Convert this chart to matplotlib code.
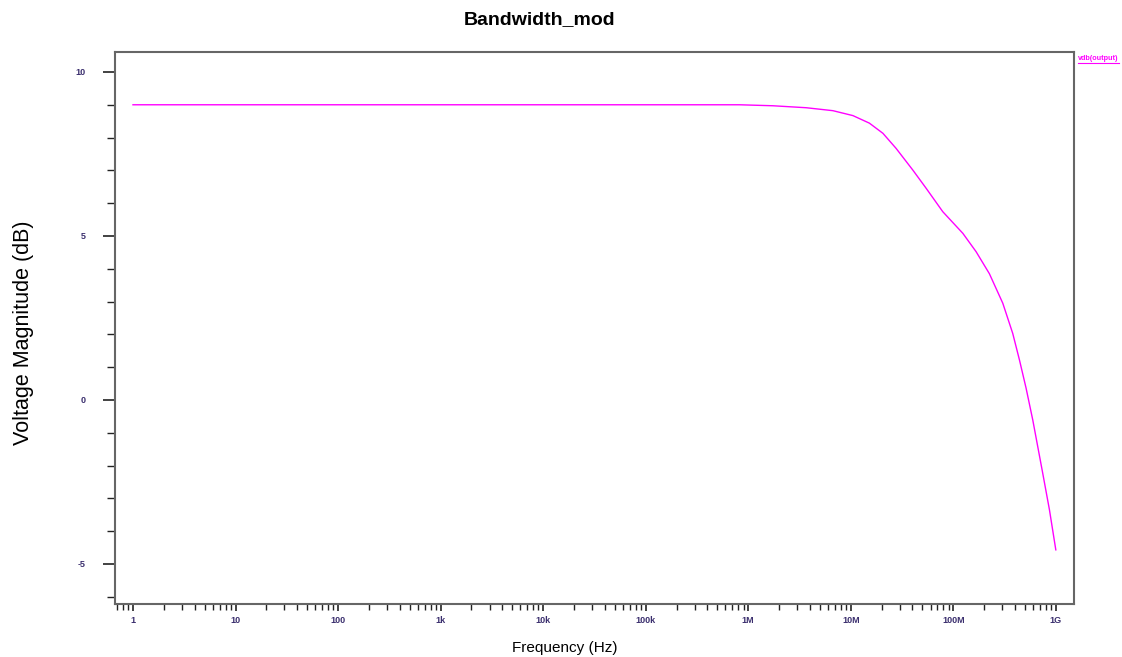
import matplotlib
matplotlib.use("Agg")
import matplotlib.pyplot as plt
from matplotlib.ticker import FixedLocator, NullFormatter, MultipleLocator
from matplotlib.lines import Line2D

plt.rcParams["axes.unicode_minus"] = False

# frequency response
freq = [1, 1e3, 824e3, 1.74e6, 3.68e6, 6.7e6, 10.5e6, 15.2e6, 20.6e6, 27.7e6,
        40.3e6, 54.5e6, 79e6, 124e6, 167e6, 225e6, 304e6, 380e6, 442e6,
        513e6, 596e6, 745e6, 867e6, 1.0e9]
vdb = [9.0, 9.0, 9.0, 8.97, 8.91, 8.82, 8.67, 8.44, 8.13, 7.67,
       7.01, 6.45, 5.74, 5.08, 4.52, 3.85, 2.95, 2.03, 1.22,
       0.36, -0.61, -2.23, -3.35, -4.57]

xticks = [1, 10, 100, 1e3, 1e4, 1e5, 1e6, 1e7, 1e8, 1e9]
xlabels = ["1", "10", "100", "1k", "10k", "100k", "1M", "10M", "100M", "1G"]
yticks = [-5, 0, 5, 10]

fig = plt.figure(figsize=(11.22, 6.57), dpi=100)
ax = fig.add_axes([0.1025, 0.0807, 0.8545, 0.8402])

ax.plot(freq, vdb, color="#ff00ff", lw=1.0)

ax.set_xscale("log")
ax.set_xlim(0.668, 10**9.175)
ax.set_ylim(-6.22, 10.61)

tick_col = "#3b2f6e"
ax.xaxis.set_major_locator(FixedLocator(xticks))
ax.set_xticklabels(xlabels)
minor = [m * 10**d for d in range(-1, 10) for m in range(2, 10)]
ax.xaxis.set_minor_locator(FixedLocator(minor))
ax.xaxis.set_minor_formatter(NullFormatter())
ax.set_yticks(yticks)
ax.yaxis.set_minor_locator(MultipleLocator(1))

ax.tick_params(axis="both", which="major", labelsize=6.5, colors="#222",
               labelcolor=tick_col, width=1.2)
ax.tick_params(axis="x", which="major", length=5, pad=4)
ax.tick_params(axis="x", which="minor", length=4, width=1.0, colors="#222")
ax.tick_params(axis="y", which="major", length=9, pad=12)
ax.tick_params(axis="y", which="minor", length=6, width=1.0, colors="#222")
for lab in ax.get_xticklabels() + ax.get_yticklabels():
    lab.set_fontweight("bold")
    lab.set_family("Liberation Sans")

for sp in ax.spines.values():
    sp.set_color("#666666")
    sp.set_linewidth(1.5)

fig.text(540 / 1122, 1 - 20 / 657, "Bandwidth_mod", ha="center", va="center",
         fontsize=14, fontweight="bold", family="Liberation Sans")
fig.text(565 / 1122, 1 - 648 / 657, "Frequency (Hz)", ha="center", va="center",
         fontsize=11, family="Liberation Sans")
fig.text(24 / 1122, 1 - 333 / 657, "Voltage Magnitude (dB)", ha="center",
         va="center", rotation=90, fontsize=15.5, family="Liberation Sans")

# legend entry at top right
fig.text(1078 / 1122, 1 - 58 / 657, "vdb(output)", ha="left", va="center",
         fontsize=5.2, fontweight="bold", color="#ff00ff",
         family="Liberation Sans")
fig.add_artist(Line2D([1078 / 1122, 1119 / 1122], [1 - 63 / 657, 1 - 63 / 657],
                      color="#ff00ff", lw=0.8, transform=fig.transFigure))

fig.savefig("out.png", dpi=100)
